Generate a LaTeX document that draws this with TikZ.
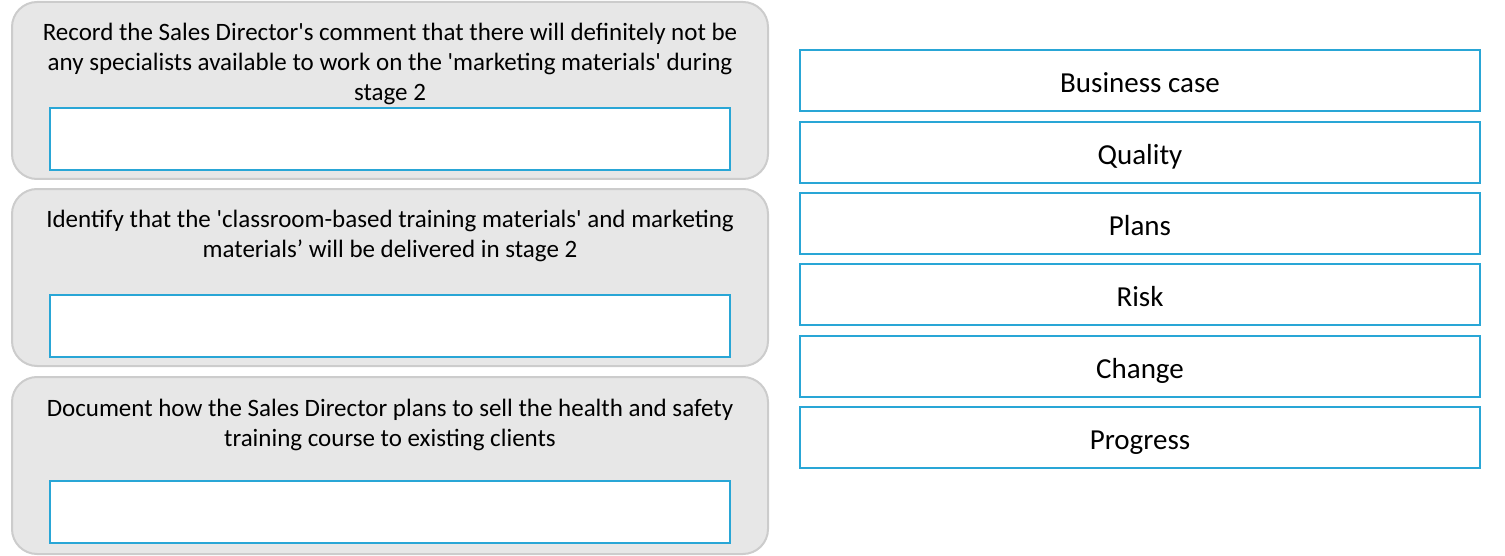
\documentclass[tikz,border=0pt]{standalone}
\usepackage{fontspec}
\setmainfont{Carlito}
\definecolor{boxblue}{RGB}{41,166,214}
\definecolor{panelgray}{RGB}{231,231,231}
\definecolor{panelline}{RGB}{204,204,204}
\newcommand{\sq}{\textquotesingle}
\begin{document}
\begin{tikzpicture}[x=0.5pt, y=-0.5pt, font=\fontsize{12.5pt}{15pt}\selectfont,
	panel/.style = {draw=panelline, line width=1pt, fill=panelgray, rounded corners=12.5pt, minimum width=378pt, minimum height=88.5pt, inner sep=0pt},
	slot/.style = {draw=boxblue, line width=1pt, fill=white, minimum width=340pt, minimum height=31pt, inner sep=0pt},
	choice/.style = {draw=boxblue, line width=1pt, fill=white, minimum width=340pt, minimum height=30.5pt, inner sep=0pt, text height=12pt, text depth=-0.6pt, font=\fontsize{14.5pt}{17pt}\selectfont},
	prompt/.style = {align=center, inner sep=0pt}]
	\useasboundingbox (0,0) rectangle (1505,556);
	% left panels
	\node[panel] (p1) at (390,90.5) {};
	\node[panel] (p2) at (390,277.5) {};
	\node[panel] (p3) at (390,465.5) {};
	\node[slot] (s1) at (390,139) {};
	\node[slot] (s2) at (390,325.5) {};
	\node[slot] (s3) at (390,511.5) {};
	\node[prompt] (t1) at (390,64) {Record the Sales Director\sq s comment that there will definitely not be\\any specialists available to work on the \sq marketing materials\sq{} during\\stage 2};
	\node[prompt] (t2) at (390,236) {Identify that the \sq classroom-based training materials\sq{} and marketing\\materials’ will be delivered in stage 2};
	\node[prompt] (t3) at (390,425) {Document how the Sales Director plans to sell the health and safety\\training course to existing clients};
	% right column
	\node[choice] (c1) at (1140,80.5) {Business case};
	\node[choice] (c2) at (1140,152.5) {Quality};
	\node[choice] (c3) at (1140,223.5) {Plans};
	\node[choice] (c4) at (1140,294.5) {Risk};
	\node[choice] (c5) at (1140,366.5) {Change};
	\node[choice] (c6) at (1140,437.5) {Progress};
\end{tikzpicture}
\end{document}
